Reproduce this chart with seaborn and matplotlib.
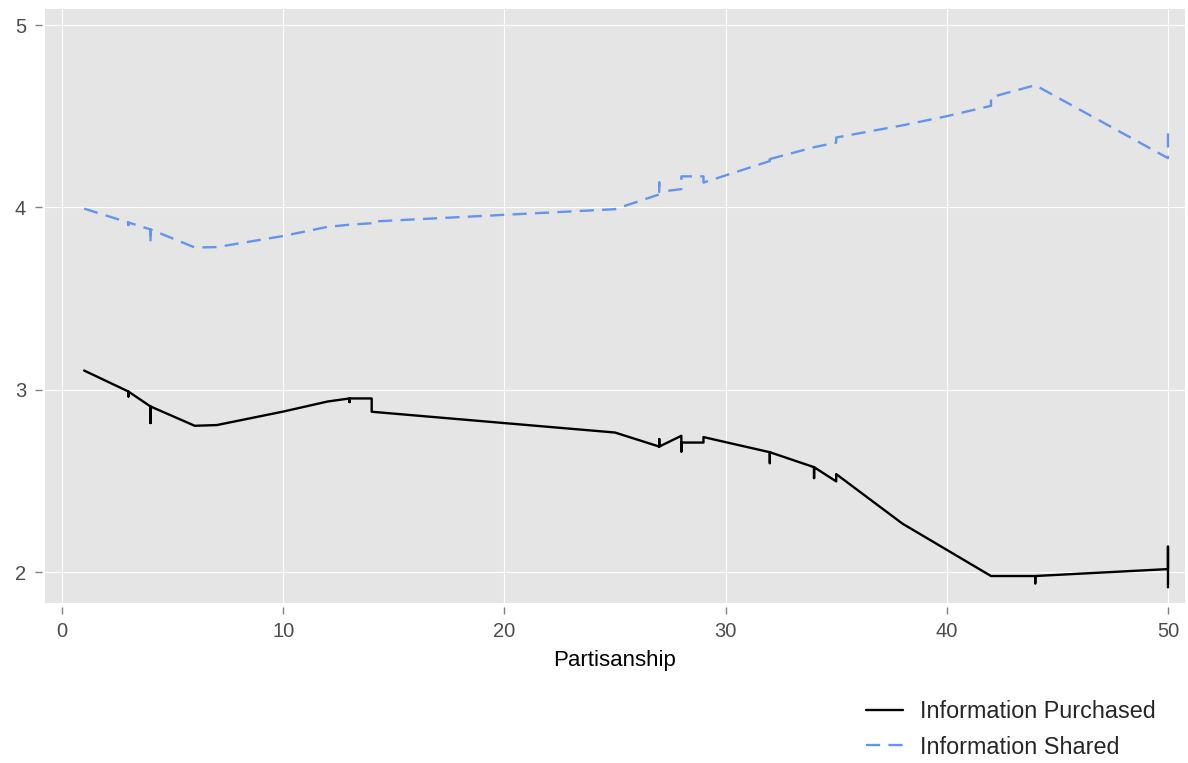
#!/usr/bin/env python3

import matplotlib
matplotlib.use("Agg")
import matplotlib.pyplot as plt
import seaborn as sns
from pandas import DataFrame

# partisanship values repeat where the fitted line has several values at one x
purchased_x = [1, 3, 3, 3, 4, 4, 4, 6, 7, 10, 12, 13, 13, 13, 14, 14, 25,
               27, 27, 27, 28, 28, 28, 29, 29, 32, 32, 32, 34, 34, 34, 35, 35,
               38, 42, 44, 44, 44, 50, 50, 50]
purchased_y = [3.105, 2.99, 2.963, 2.99, 2.908, 2.817, 2.908, 2.802, 2.806, 2.88,
               2.935, 2.952, 2.932, 2.952, 2.952, 2.879, 2.765,
               2.688, 2.729, 2.688, 2.747, 2.661, 2.71, 2.71, 2.74,
               2.657, 2.597, 2.657, 2.575, 2.515, 2.575, 2.497, 2.537,
               2.265, 1.978, 1.978, 1.938, 1.978, 2.016, 2.139, 1.916]

shared_x = [1, 3, 3, 3, 4, 4, 4, 6, 7, 10, 12, 13, 14, 14, 25,
            27, 27, 27, 28, 28, 29, 29, 32, 32, 32, 34, 35, 35,
            38, 40, 42, 42, 44, 50, 50]
shared_y = [3.993, 3.917, 3.903, 3.917, 3.879, 3.805, 3.879, 3.78, 3.782, 3.843,
            3.893, 3.905, 3.913, 3.922, 3.99,
            4.071, 4.136, 4.085, 4.10, 4.17, 4.17, 4.136, 4.254, 4.29, 4.265,
            4.33, 4.355, 4.383, 4.45, 4.50, 4.557, 4.604, 4.67, 4.27, 4.42]

series_names = ["Information Purchased", "Information Shared"]
x_ticks = [0, 10, 20, 30, 40, 50]
y_ticks = [2, 3, 4, 5]


def construct_data_frame():
    rows = []
    for name, xs, ys in zip(series_names, [purchased_x, shared_x], [purchased_y, shared_y]):
        for x, y in zip(xs, ys):
            rows.append({"Partisanship": x, "value": y, "series": name})
    return DataFrame(rows)


def main():
    data = construct_data_frame()

    sns.set_style("darkgrid", {"axes.facecolor": "#E5E5E5",
                               "grid.color": "white",
                               "grid.linewidth": 1.6})
    plt.rcParams['font.family'] = ['Liberation Sans', 'DejaVu Sans']

    fig = plt.figure(figsize=(11.88, 7.63), dpi=100)
    ax = fig.add_axes([45 / 1188, 160 / 763, 1140 / 1188, 594 / 763])

    sns.lineplot(data=data, x="Partisanship", y="value",
                 hue="series", style="series",
                 palette={series_names[0]: "black", series_names[1]: "#6495ED"},
                 dashes={series_names[0]: "", series_names[1]: (6, 3.5)},
                 sort=False, estimator=None, linewidth=1.7, ax=ax)

    ax.set_xlim(-0.77, 50.77)
    ax.set_ylim(1.83, 5.088)
    ax.set_xticks(x_ticks)
    ax.set_yticks(y_ticks)

    for side in ["top", "right", "left", "bottom"]:
        ax.spines[side].set_visible(False)
    ax.spines["left"].set_position(("outward", 2.2))
    ax.spines["bottom"].set_position(("outward", 2.9))

    ax.tick_params(axis="both", which="major", bottom=True, left=True,
                   length=5, width=1, color="#808080",
                   labelcolor="#4D4D4D", labelsize=14.5)
    ax.tick_params(axis="y", pad=6.5)
    ax.tick_params(axis="x", pad=5.5)

    ax.set_ylabel("")
    ax.set_xlabel("Partisanship", fontsize=16, color="black")
    ax.xaxis.set_label_coords(0.5, -0.096)
    ax.xaxis.label.set_verticalalignment("center")

    handles, labels = ax.get_legend_handles_labels()
    ax.legend(handles=handles, labels=labels, loc="center left",
              bbox_to_anchor=(866 / 1188, 1 - 729.5 / 763),
              bbox_transform=fig.transFigure, frameon=False,
              fontsize=16.8, handlelength=1.6, handletextpad=0.72,
              labelspacing=0.52, borderpad=0, borderaxespad=0)

    plt.savefig("out.png", dpi=100)


if __name__ == "__main__":
    main()
